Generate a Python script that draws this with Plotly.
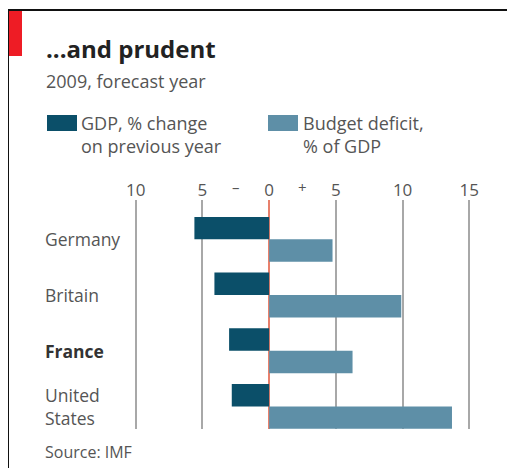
import plotly.graph_objects as go

countries = ["Germany", "Britain", "France", "United States"]
country_labels = ["Germany", "Britain", "<b>France</b>", "United<br>States"]
gdp_change = [-5.6, -4.1, -3.0, -2.8]
budget_deficit = [4.75, 9.9, 6.25, 13.7]
tick_vals = [-10, -5, 0, 5, 10, 15]
tick_text = ["10", "5", "0", "5", "10", "15"]
sign_vals = [-2.5, 2.5]
sign_text = ["–", "+"]

# page body has an 8px margin; coordinates below are given in window pixels
OFF = 8
W, H = 515 - OFF, 468 - OFF
L, T = 129 - OFF, 200 - OFF
R = W - (476 - OFF)
B = H - (429 - OFF)
PW, PH = W - L - R, H - T - B

def px(x):
    return (x - OFF - L) / PW

def py(y):
    return (H - B - (y - OFF)) / PH

FONT = "Open Sans"
DARK = "#0b4f69"
LIGHT = "#5e8fa7"
GREY = "#555555"

fig = go.Figure()
fig.add_trace(go.Bar(y=countries, x=gdp_change, orientation="h", marker_color=DARK,
                     marker_line_width=0, name="GDP"))
fig.add_trace(go.Bar(y=countries, x=budget_deficit, orientation="h", marker_color=LIGHT,
                     marker_line_width=0, name="Deficit"))

annotations = []
for c, lab in zip(countries, country_labels):
    annotations.append(dict(x=px(43), xref="paper", y=c, yref="y", text=lab, showarrow=False,
                            xanchor="left", yanchor="middle", align="left",
                            font=dict(family=FONT, size=17.5, color="#333" if "France" in c else GREY)))
for v, t in zip(sign_vals, sign_text):
    annotations.append(dict(x=v, xref="x", y=py(187), yref="paper", text=t, showarrow=False,
                            xanchor="center", yanchor="middle",
                            font=dict(family=FONT, size=15, color=GREY)))

annotations += [
    dict(x=px(44), y=py(49), xref="paper", yref="paper", text="<b>...and prudent</b>",
         showarrow=False, xanchor="left", yanchor="middle", font=dict(family=FONT, size=24, color="#222")),
    dict(x=px(44), y=py(81), xref="paper", yref="paper", text="2009, forecast year",
         showarrow=False, xanchor="left", yanchor="middle", font=dict(family=FONT, size=18, color=GREY)),
    dict(x=px(79), y=py(134), xref="paper", yref="paper", text="GDP, % change<br>on previous year",
         showarrow=False, xanchor="left", yanchor="middle", align="left",
         font=dict(family=FONT, size=18, color=GREY)),
    dict(x=px(301), y=py(134), xref="paper", yref="paper", text="Budget deficit,<br>% of GDP",
         showarrow=False, xanchor="left", yanchor="middle", align="left",
         font=dict(family=FONT, size=18, color=GREY)),
    dict(x=px(43), y=py(452), xref="paper", yref="paper", text="Source: IMF",
         showarrow=False, xanchor="left", yanchor="middle", font=dict(family=FONT, size=16, color=GREY)),
]

shapes = [
    dict(type="rect", xref="paper", yref="paper", x0=px(47), x1=px(77), y0=py(115), y1=py(131),
         fillcolor=DARK, line_width=0),
    dict(type="rect", xref="paper", yref="paper", x0=px(268), x1=px(298), y0=py(115), y1=py(131),
         fillcolor=LIGHT, line_width=0),
    dict(type="line", xref="paper", yref="paper", x0=px(7), x1=px(515), y0=py(10), y1=py(10),
         line=dict(color="#111", width=2)),
    dict(type="line", xref="paper", yref="paper", x0=px(8), x1=px(8), y0=py(9), y1=py(468),
         line=dict(color="#111", width=2)),
    dict(type="rect", xref="paper", yref="paper", x0=px(9), x1=px(22), y0=py(11), y1=py(56),
         fillcolor="#ee1c25", line_width=0),
]

fig.update_layout(
    width=W, height=H, margin=dict(l=L, r=R, t=T, b=B),
    paper_bgcolor="white", plot_bgcolor="white",
    barmode="group", bargap=0.195, bargroupgap=0,
    showlegend=False,
    annotations=annotations, shapes=shapes,
    xaxis=dict(range=[-10.5, 15.5], side="top", tickvals=tick_vals, ticktext=tick_text,
               showgrid=True, gridcolor="#a8a8a8", gridwidth=1.5,
               zeroline=True, zerolinecolor="#e8806c", zerolinewidth=1.5,
               showline=False, ticks="", tickfont=dict(family=FONT, size=17, color=GREY),
               fixedrange=True),
    yaxis=dict(range=[3.405, -0.706], showticklabels=False, showgrid=False, zeroline=False,
               showline=False, ticks=""),
)

fig.write_html("out.html")
